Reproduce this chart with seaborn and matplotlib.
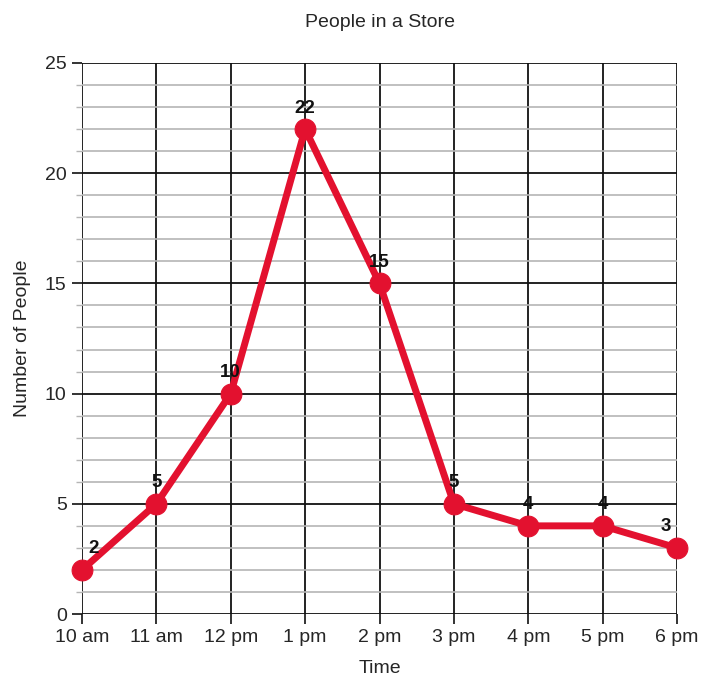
import matplotlib
matplotlib.use("Agg")
import matplotlib.pyplot as plt
import pandas as pd
import seaborn as sns
from matplotlib.ticker import MultipleLocator

times = ["10 am", "11 am", "12 pm", "1 pm", "2 pm", "3 pm", "4 pm", "5 pm", "6 pm"]
people = [2, 5, 10, 22, 15, 5, 4, 4, 3]

df = pd.DataFrame({"Time": times, "Number of People": people})

sns.set_style("white")
plt.rcParams["font.family"] = ["Liberation Sans", "DejaVu Sans"]

fig = plt.figure(figsize=(7.02, 6.84), dpi=100)
ax = fig.add_axes([0.1168, 0.1023, 0.8476, 0.8056])

red = "#e3112f"
sns.lineplot(data=df, x="Time", y="Number of People", ax=ax, color=red,
             linewidth=5, marker="o", markersize=15, markeredgecolor=red,
             zorder=5, sort=False)
for line in ax.lines:
    line.set_clip_on(False)

ax.set_xlim(0, len(times) - 1)
ax.set_ylim(0, 25)
ax.yaxis.set_major_locator(MultipleLocator(5))
ax.yaxis.set_minor_locator(MultipleLocator(1))

ax.grid(which="major", axis="both", color="#111111", linewidth=1.3)
ax.grid(which="minor", axis="y", color="#b5b5b5", linewidth=1.2)
ax.set_axisbelow(True)
for s in ax.spines.values():
    s.set_visible(False)

ax.tick_params(which="major", direction="out", length=7, width=1.2,
               color="#111111", labelsize=14, left=True, bottom=True, pad=4)
ax.tick_params(which="minor", direction="out", length=4, width=1.0,
               color="#b5b5b5", left=True)

for i, (t, v) in enumerate(zip(times, people)):
    dx = 8 if i == 0 else (-8 if i == len(times) - 1 else 0)
    ax.annotate(str(v), (i, v), xytext=(dx, 9), textcoords="offset points",
                ha="center", va="bottom", fontsize=13.5, fontweight="bold",
                color="#111111", zorder=6, annotation_clip=False)

ax.set_title("People in a Store", fontsize=14, pad=26)
ax.set_xlabel("Time", fontsize=14, labelpad=10)
ax.set_ylabel("Number of People", fontsize=14, labelpad=10)

fig.savefig("out.png", dpi=100)
